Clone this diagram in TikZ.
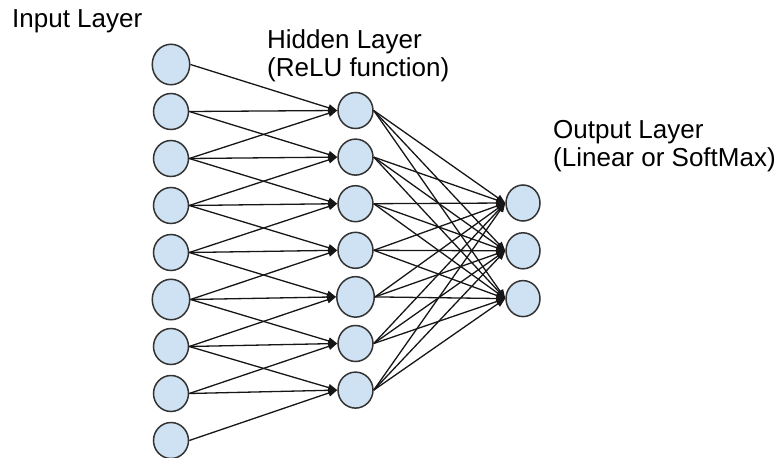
\documentclass[tikz,border=0pt]{standalone}
\usepackage{fontspec}
\setmainfont{Liberation Sans}
\usetikzlibrary{arrows.meta,shapes.geometric}
\definecolor{nodefill}{HTML}{CFE2F3}
\definecolor{nodeline}{HTML}{333333}
\definecolor{conn}{HTML}{161616}
\begin{document}
\begin{tikzpicture}[x=1pt,y=-1pt,
  neuron/.style={ellipse,draw=nodeline,fill=nodefill,line width=1.5pt,inner sep=0pt,minimum width=35pt,minimum height=36pt},
  bigneuron/.style={neuron,minimum width=37.5pt,minimum height=40.5pt},
  link/.style={draw=conn,line width=1.3pt,-{Triangle[length=9pt,width=7pt]}},
  lbl/.style={inner sep=0pt,anchor=base west,font=\fontsize{26pt}{29pt}\selectfont}]
\useasboundingbox (0,0) rectangle (777,458);
% labels
\node[lbl] (tin) at (12,27) {Input Layer};
\node[lbl] (thid1) at (267,48) {Hidden Layer};
\node[lbl] (thid2) at (267,76) {(ReLU function)};
\node[lbl] (tout1) at (553,138) {Output Layer};
\node[lbl] (tout2) at (553,166) {(Linear or SoftMax)};
% input layer
\foreach \i in {0,...,8} {
  \pgfmathsetmacro{\yy}{64.5+47*\i}
  \ifnum\i=0
    \node[bigneuron] (in\i) at (171,\yy) {};
  \else\ifnum\i=5
    \node[bigneuron] (in\i) at (171,\yy) {};
  \else
    \node[neuron] (in\i) at (171,\yy) {};
  \fi\fi
}
% hidden layer
\foreach \j in {0,...,6} {
  \pgfmathsetmacro{\yy}{110.5+46.6*\j}
  \ifnum\j=4
    \node[bigneuron] (h\j) at (355.5,\yy) {};
  \else
    \node[neuron] (h\j) at (355.5,\yy) {};
  \fi
}
% output layer
\foreach \k in {0,1,2} {
  \pgfmathsetmacro{\yy}{203+47.8*\k}
  \node[neuron,minimum width=34pt] (o\k) at (523,\yy) {};
}
% input -> hidden
\foreach \j in {0,...,6} {
  \foreach \d in {0,1,2} {
    \pgfmathtruncatemacro{\ii}{\j+\d}
    \draw[link] (in\ii.east) -- (h\j.west);
  }
}
% hidden -> output
\foreach \j in {0,...,6} {
  \foreach \k in {0,1,2} {
    \draw[link] (h\j.east) -- (o\k.west);
  }
}
\end{tikzpicture}
\end{document}
